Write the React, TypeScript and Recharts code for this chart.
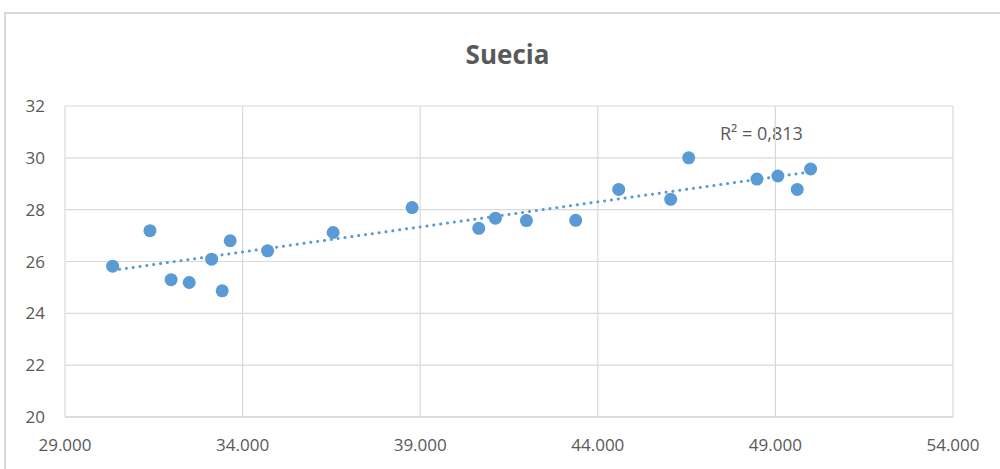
import React from "react";
import {
  ScatterChart,
  Scatter,
  XAxis,
  YAxis,
  CartesianGrid,
  ReferenceLine,
} from "recharts";

const incomes = [
  30341, 31392, 31988, 32497, 33127, 33426, 33651, 34704, 36549, 38773, 40649,
  41118, 41990, 43378, 44588, 46052, 46559, 48480, 49070, 49615, 49992,
];
const values = [
  25.82, 27.19, 25.3, 25.19, 26.09, 24.87, 26.8, 26.41, 27.12, 28.08, 27.28,
  27.67, 27.58, 27.59, 28.78, 28.4, 30.0, 29.18, 29.3, 28.78, 29.57,
];
const xTicks = [29000, 34000, 39000, 44000, 49000, 54000];
const yTicks = [20, 22, 24, 26, 28, 30, 32];
const trendX = [30341, 49992];
const trendY = [25.66, 29.46];
const title = "Suecia";
const r2Label = "R² = 0,813";

const data = incomes.map((x, i) => ({ x, y: values[i] }));

const fmtX = (v: number) =>
  v.toLocaleString("de-DE", { maximumFractionDigits: 0 }).replace(/,/g, ".");

const FONT = "'Open Sans', sans-serif";
const TXT = "#595959";

export default function App() {
  return (
    <div
      style={{
        position: "absolute",
        left: 0,
        top: 0,
        width: 1000,
        height: 469,
        background: "#fff",
        overflow: "hidden",
        fontFamily: FONT,
      }}
    >
      <div
        style={{
          position: "absolute",
          left: 0,
          width: 1015,
          top: 36,
          textAlign: "center",
          fontSize: 26,
          fontWeight: 700,
          color: TXT,
          lineHeight: "36px",
        }}
      >
        {title}
      </div>
      <div
        style={{
          position: "absolute",
          left: 720,
          top: 120,
          fontSize: 18,
          color: TXT,
          lineHeight: "26px",
          whiteSpace: "nowrap",
        }}
      >
        {r2Label}
      </div>
      <div style={{ position: "absolute", left: 0, top: 0 }}>
        <ScatterChart
          width={1000}
          height={469}
          margin={{ top: 106, right: 47, bottom: 12, left: 15 }}
        >
          <CartesianGrid stroke="#d9d9d9" strokeWidth={1.2} />
          <XAxis
            type="number"
            dataKey="x"
            domain={[29000, 54000]}
            ticks={xTicks}
            tickFormatter={fmtX}
            height={40}
            axisLine={{ stroke: "#d9d9d9", strokeWidth: 1.5 }}
            tickLine={false}
            tickSize={0}
            tickMargin={22}
            tick={{ fill: TXT, fontSize: 17, fontFamily: FONT }}
            interval={0}
          />
          <YAxis
            type="number"
            dataKey="y"
            domain={[20, 32]}
            ticks={yTicks}
            width={50}
            axisLine={false}
            tickLine={false}
            tickSize={0}
            tickMargin={20}
            tick={{ fill: TXT, fontSize: 17, fontFamily: FONT }}
            interval={0}
          />
          <ReferenceLine
            segment={[
              { x: trendX[0], y: trendY[0] },
              { x: trendX[1], y: trendY[1] },
            ]}
            stroke="#5b9bd5"
            strokeWidth={3}
            strokeDasharray="0.1 6.8"
            strokeLinecap="round"
            ifOverflow="visible"
          />
          <Scatter
            data={data}
            fill="#5b9bd5"
            isAnimationActive={false}
            shape={(p: any) => (
              <circle cx={p.cx} cy={p.cy} r={6.5} fill="#5b9bd5" />
            )}
          />
        </ScatterChart>
      </div>
      <div
        style={{
          position: "absolute",
          left: 4,
          top: 12,
          width: 996,
          height: 2,
          background: "#d9d9d9",
          zIndex: 5,
        }}
      />
      <div
        style={{
          position: "absolute",
          left: 4,
          top: 12,
          width: 2,
          height: 457,
          background: "#d9d9d9",
          zIndex: 5,
        }}
      />
    </div>
  );
}
